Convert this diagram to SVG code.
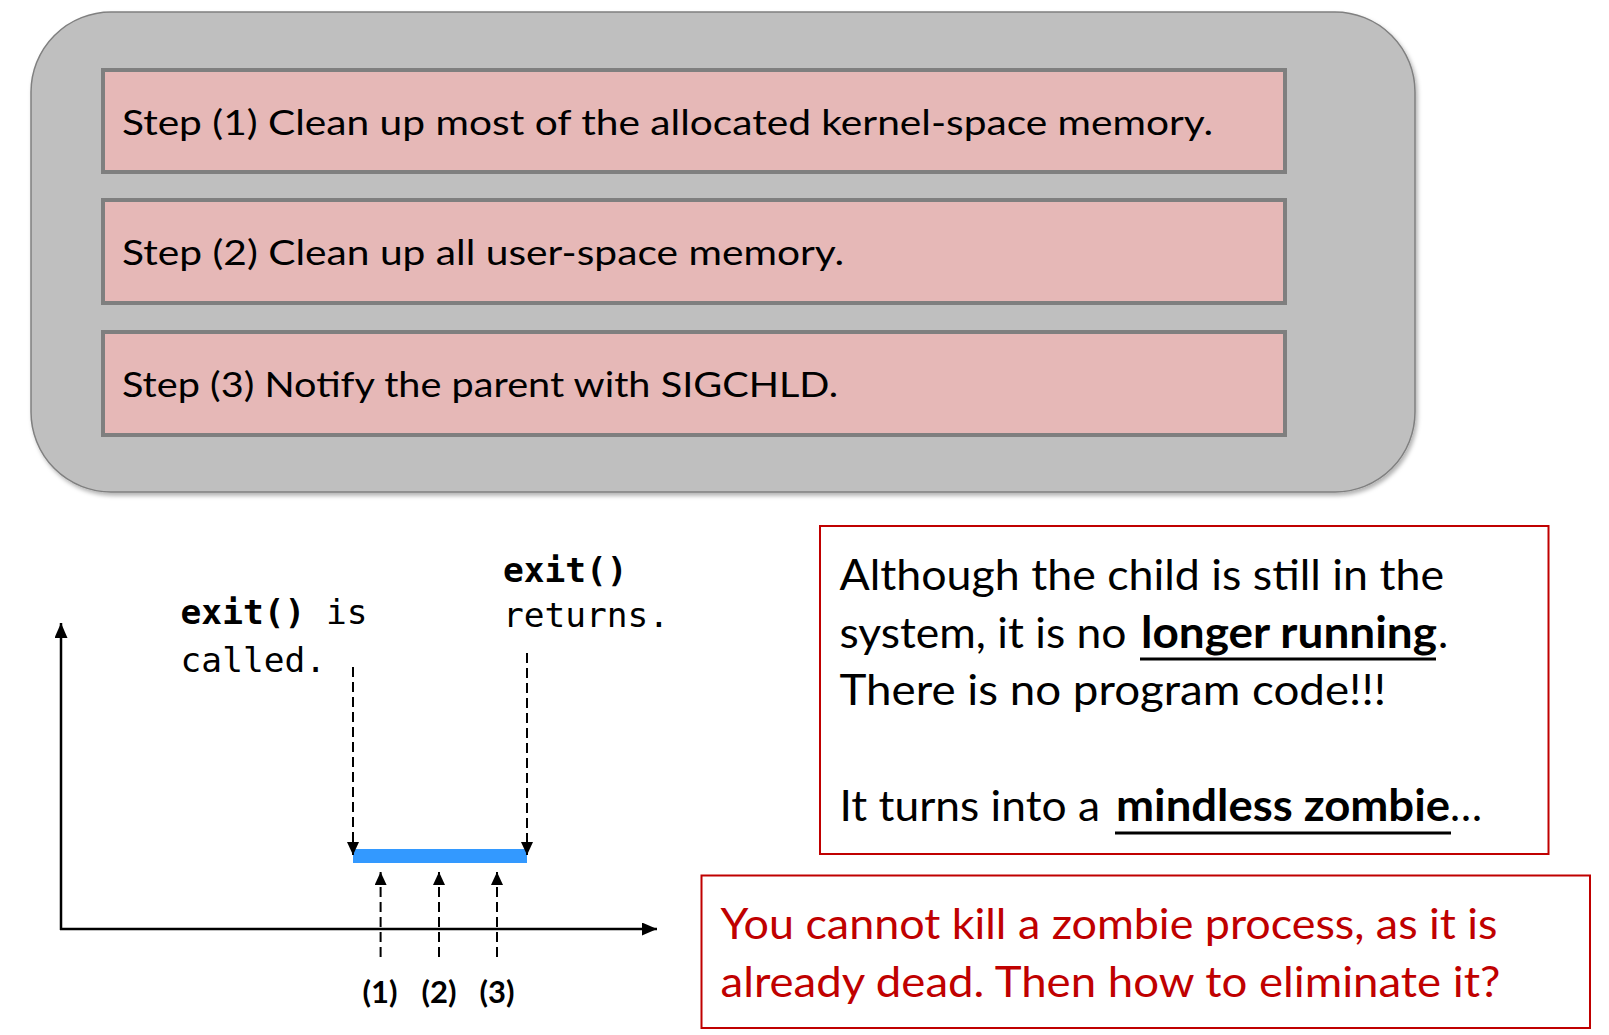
<svg xmlns="http://www.w3.org/2000/svg" width="1609" height="1035" viewBox="0 0 1609 1035">
<style>
.step{fill:#e6b8b7;stroke:#7f7f7f;stroke-width:4}
.st{font-family:Lato,"Open Sans","Liberation Sans",sans-serif;font-size:34px;fill:#000}
.bt{font-family:Lato,"Open Sans","Liberation Sans",sans-serif;font-size:43px;fill:#000}
.rt{font-family:Lato,"Open Sans","Liberation Sans",sans-serif;font-size:43px;fill:#c00000}
.b{font-weight:bold}
.mono{font-family:"DejaVu Sans Mono","Liberation Mono",monospace;font-size:34.5px;fill:#000}
.num{font-family:Lato,"Open Sans","Liberation Sans",sans-serif;font-size:31px;font-weight:bold;fill:#000;text-anchor:middle}
.axis{stroke:#000;stroke-width:2.5;fill:none}
.dash{stroke:#000;stroke-width:2;stroke-dasharray:10 5;fill:none}
.ul{stroke:#000;stroke-width:3}
.note{fill:#fff;stroke:#c00000;stroke-width:2}
</style>
<defs>
<marker id="ah" markerUnits="userSpaceOnUse" markerWidth="15" markerHeight="13" refX="15" refY="6.5" orient="auto">
<path d="M0,0 L15,6.5 L0,13 z" fill="#000"/>
</marker>
<marker id="ahs" markerUnits="userSpaceOnUse" markerWidth="13" markerHeight="12" refX="13" refY="6" orient="auto">
<path d="M0,0 L13,6 L0,12 z" fill="#000"/>
</marker>
<filter id="sh" x="-5%" y="-5%" width="110%" height="115%">
<feDropShadow dx="2" dy="3" stdDeviation="2" flood-color="#000" flood-opacity="0.3"/>
</filter>
<filter id="lsh" x="-5%" y="-100%" width="110%" height="300%">
<feDropShadow dx="1" dy="2" stdDeviation="1.2" flood-color="#000" flood-opacity="0.3"/>
</filter>
</defs>

<g id="container">
<rect x="31" y="12" width="1384" height="480" rx="80" ry="80" fill="#bfbfbf" stroke="#808080" stroke-width="1.5" filter="url(#sh)"/>
</g>
<g id="step1">
<rect class="step" x="103" y="70" width="1182" height="102"/>
<text class="st" x="122" y="135" textLength="1091" lengthAdjust="spacingAndGlyphs">Step (1) Clean up most of the allocated kernel-space memory.</text>
</g>
<g id="step2">
<rect class="step" x="103" y="200" width="1182" height="103"/>
<text class="st" x="122" y="265" textLength="722" lengthAdjust="spacingAndGlyphs">Step (2) Clean up all user-space memory.</text>
</g>
<g id="step3">
<rect class="step" x="103" y="332" width="1182" height="103"/>
<text class="st" x="122" y="397" textLength="716" lengthAdjust="spacingAndGlyphs">Step (3) Notify the parent with SIGCHLD.</text>
</g>

<g id="chart">
<line class="axis" x1="61" y1="930" x2="61" y2="623" marker-end="url(#ah)"/>
<line class="axis" x1="60" y1="929" x2="657" y2="929" marker-end="url(#ah)"/>
<line x1="61" y1="731" x2="353" y2="731" stroke="#9bbb59" stroke-width="7" filter="url(#lsh)"/>
<line x1="527" y1="725" x2="686" y2="725" stroke="#a6a6a6" stroke-width="7" filter="url(#lsh)"/>
<rect x="353" y="849" width="174" height="14" fill="#3399ff"/>
</g>

<g id="label-called">
<text class="mono" x="180.6" y="624"><tspan class="b">exit()</tspan> is</text>
<text class="mono" x="180.6" y="671.5">called.</text>
</g>
<g id="label-returns">
<text class="mono b" x="503" y="582">exit()</text>
<text class="mono" x="503" y="627">returns.</text>
</g>
<g id="labels-steps">
<text class="num" x="380" y="1003">(1)</text>
<text class="num" x="439" y="1003">(2)</text>
<text class="num" x="497" y="1003">(3)</text>
</g>

<g id="connectors">
<line class="dash" x1="353" y1="667" x2="353" y2="855" marker-end="url(#ahs)"/>
<line class="dash" x1="527" y1="653" x2="527" y2="855" marker-end="url(#ahs)"/>
<line class="dash" x1="380.6" y1="957" x2="380.6" y2="872" marker-end="url(#ahs)"/>
<line class="dash" x1="439" y1="957" x2="439" y2="872" marker-end="url(#ahs)"/>
<line class="dash" x1="497" y1="957" x2="497" y2="872" marker-end="url(#ahs)"/>
</g>

<g id="note-zombie">
<rect class="note" x="820" y="526" width="728.5" height="328"/>
<text class="bt" x="839.5" y="590" textLength="604.5" lengthAdjust="spacingAndGlyphs">Although the child is still in the</text>
<text class="bt" x="839.5" y="647.5" textLength="287" lengthAdjust="spacingAndGlyphs">system, it is no</text>
<text class="bt b" x="1141" y="647.5" textLength="296" lengthAdjust="spacingAndGlyphs">longer running</text>
<text class="bt" x="1438" y="647.5">.</text>
<line class="ul" x1="1140" y1="659" x2="1436" y2="659"/>
<text class="bt" x="839.5" y="705" textLength="546.5" lengthAdjust="spacingAndGlyphs">There is no program code!!!</text>
<text class="bt" x="839.5" y="821" textLength="260.5" lengthAdjust="spacingAndGlyphs">It turns into a</text>
<text class="bt b" x="1116" y="821" textLength="334" lengthAdjust="spacingAndGlyphs">mindless zombie</text>
<text class="bt" x="1450" y="821" textLength="32" lengthAdjust="spacingAndGlyphs">…</text>
<line class="ul" x1="1115" y1="833" x2="1451" y2="833"/>
</g>

<g id="note-kill">
<rect class="note" x="701.5" y="875.5" width="888.5" height="152.5"/>
<text class="rt" x="720.5" y="939" textLength="777" lengthAdjust="spacingAndGlyphs">You cannot kill a zombie process, as it is</text>
<text class="rt" x="720.5" y="997" textLength="780" lengthAdjust="spacingAndGlyphs">already dead. Then how to eliminate it?</text>
</g>
</svg>
